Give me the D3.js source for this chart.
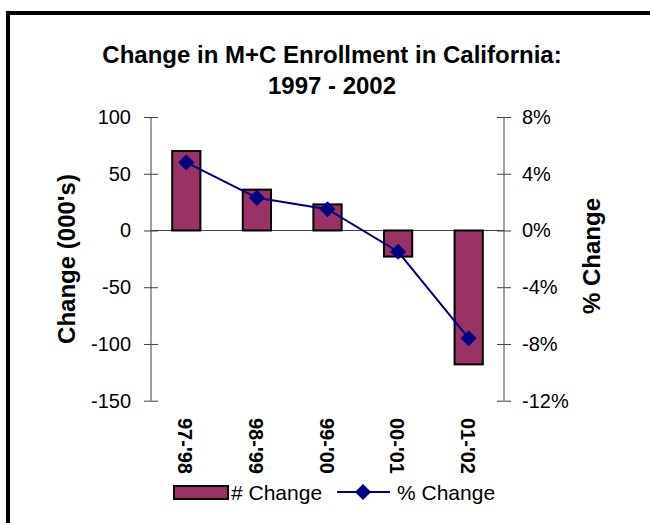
<!DOCTYPE html>
<html>
<head>
<meta charset="utf-8">
<script src="https://cdn.jsdelivr.net/npm/d3@7"></script>
<style>
  body { margin: 0; background: #fff; }
  text { font-family: Arial, "Liberation Sans", sans-serif; }
</style>
</head>
<body>
<svg id="chart" width="650" height="523"></svg>
<script>
const periods = ["97-'98", "98-'99", "99-'00", "00-'01", "01-'02"];
const numChange = [70, 36, 23, -23, -118];        // 000's
const pctChange = [4.8, 2.3, 1.5, -1.5, -7.6];    // percent
const leftTicks = [100, 50, 0, -50, -100, -150];
const rightTicks = [8, 4, 0, -4, -8, -12];

const svg = d3.select('#chart');

// outer frame
svg.append('rect')
  .attr('x', 8)
  .attr('y', 13)
  .attr('width', 700)
  .attr('height', 600)
  .attr('fill', 'none')
  .attr('stroke', 'black')
  .attr('stroke-width', 4);

// title
svg.append('text')
  .attr('x', 332).attr('y', 63)
  .attr('text-anchor', 'middle')
  .attr('font-weight', 'bold')
  .attr('font-size', '24px')
  .text('Change in M+C Enrollment in California:');
svg.append('text')
  .attr('x', 332).attr('y', 94)
  .attr('text-anchor', 'middle')
  .attr('font-weight', 'bold')
  .attr('font-size', '24px')
  .text('1997 - 2002');

const plotL = 151, plotR = 504, plotT = 117, plotB = 400.7;

const x = d3.scaleBand()
  .domain(periods)
  .range([plotL, plotR])
  .paddingInner(0.6)
  .paddingOuter(0.3);

const y = d3.scaleLinear().domain([-150, 100]).range([plotB, plotT]);
const y2 = d3.scaleLinear().domain([-12, 8]).range([plotB, plotT]);

const axisColor = '#404040';

// zero line
svg.append('line')
  .attr('x1', plotL).attr('x2', plotR)
  .attr('y1', y(0)).attr('y2', y(0))
  .attr('stroke', axisColor);

// bars
svg.append('g').selectAll('rect')
  .data(numChange)
  .join('rect')
  .attr('x', (d, i) => x(periods[i]))
  .attr('width', x.bandwidth())
  .attr('y', d => y(Math.max(0, d)))
  .attr('height', d => Math.abs(y(d) - y(0)))
  .attr('fill', '#993366')
  .attr('stroke', 'black')
  .attr('stroke-width', 2);

// left axis
const gl = svg.append('g')
  .attr('transform', `translate(${plotL},0)`)
  .call(d3.axisLeft(y).tickValues(leftTicks).tickSize(7).tickPadding(13)
    .tickFormat(d => String(d)));
gl.selectAll('.tick line').attr('x2', 7).attr('x1', -7);

// right axis
const gr = svg.append('g')
  .attr('transform', `translate(${plotR},0)`)
  .call(d3.axisRight(y2).tickValues(rightTicks).tickSize(7).tickPadding(11)
    .tickFormat(d => d + '%'));
gr.selectAll('.tick line').attr('x1', -7).attr('x2', 7);

[gl, gr].forEach(g => {
  g.select('.domain').remove();
  g.selectAll('.tick line').attr('stroke', axisColor);
  g.selectAll('.tick text')
    .attr('font-size', '20px')
    .attr('font-family', 'Arial, "Liberation Sans", sans-serif')
    .attr('fill', 'black');
  g.append('line').attr('y1', plotT).attr('y2', plotB).attr('stroke', axisColor);
});

// line series
const cx = d => x(d) + x.bandwidth() / 2;
svg.append('path')
  .datum(pctChange)
  .attr('d', d3.line().x((d, i) => cx(periods[i])).y(d => y2(d)))
  .attr('fill', 'none')
  .attr('stroke', '#000080')
  .attr('stroke-width', 2);

const diamond = d3.symbol().type(d3.symbolSquare).size(130);
svg.append('g').selectAll('path')
  .data(pctChange)
  .join('path')
  .attr('d', diamond)
  .attr('transform', (d, i) => `translate(${cx(periods[i])},${y2(d)}) rotate(45)`)
  .attr('fill', '#000080');

// x labels rotated
svg.append('g').selectAll('text')
  .data(periods)
  .join('text')
  .attr('transform', d => `translate(${cx(d) - 8},418) rotate(90)`)
  .attr('font-weight', 'bold')
  .attr('font-size', '20px')
  .text(d => d);

// axis titles
svg.append('text')
  .attr('transform', 'translate(75,259) rotate(-90)')
  .attr('text-anchor', 'middle')
  .attr('font-weight', 'bold')
  .attr('font-size', '24px')
  .text("Change (000's)");
svg.append('text')
  .attr('transform', 'translate(600,256) rotate(-90)')
  .attr('text-anchor', 'middle')
  .attr('font-weight', 'bold')
  .attr('font-size', '24px')
  .text('% Change');

// legend
svg.append('rect')
  .attr('x', 174).attr('y', 486)
  .attr('width', 54).attr('height', 13)
  .attr('fill', '#993366')
  .attr('stroke', 'black')
  .attr('stroke-width', 2);
svg.append('text')
  .attr('x', 231).attr('y', 500)
  .attr('font-size', '21px')
  .text('# Change');
svg.append('line')
  .attr('x1', 337).attr('x2', 390)
  .attr('y1', 492).attr('y2', 492)
  .attr('stroke', '#000080').attr('stroke-width', 2);
svg.append('path')
  .attr('d', diamond)
  .attr('transform', 'translate(363,492) rotate(45)')
  .attr('fill', '#000080');
svg.append('text')
  .attr('x', 397).attr('y', 500)
  .attr('font-size', '21px')
  .text('% Change');
</script>
</body>
</html>
